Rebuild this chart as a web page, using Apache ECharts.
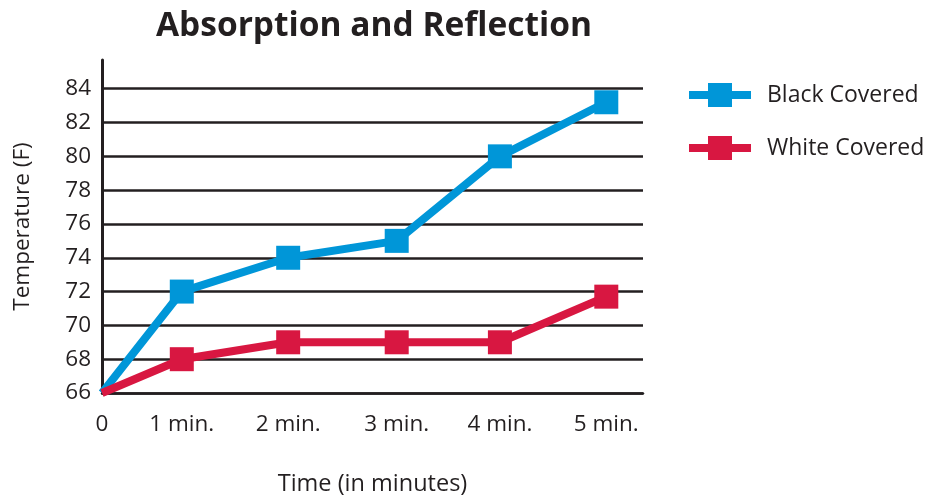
<!DOCTYPE html>
<html>
<head>
<meta charset="utf-8">
<script src="https://cdn.jsdelivr.net/npm/echarts@6/dist/echarts.min.js"></script>
<style>
  html, body { margin: 0; padding: 0; background: #fff; }
  #chart { width: 930px; height: 496px; }
</style>
</head>
<body>
<div id="chart"></div>
<script>
// Sampling times and their tick labels
const timeLabels = ['0', '1 min.', '2 min.', '3 min.', '4 min.', '5 min.'];
// Horizontal slot of each reading along the time axis (first interval drawn shorter)
const timeSlots = [0, 0.75, 1.75, 2.77, 3.74, 4.74];
// Temperatures in degrees F
const blackCovered = [66, 72, 74, 75, 80, 83.2];
const whiteCovered = [66, 68, 69, 69, 69, 71.7];

const ink = '#231f20';
const blue = '#0096d8';
const red = '#d81741';
const font = '"Open Sans", "Noto Sans", sans-serif';

function pairs(vals) {
  return vals.map((v, i) => ({
    value: [timeSlots[i], v],
    symbol: i === 0 ? 'none' : 'rect'
  }));
}

const chart = echarts.init(document.getElementById('chart'), null, { renderer: 'canvas' });
chart.setOption({
  animation: false,
  backgroundColor: '#fff',
  textStyle: { fontFamily: font, color: ink },
  title: {
    text: 'Absorption and Reflection',
    left: 369, top: 4, textAlign: 'center',
    textStyle: { fontFamily: font, fontWeight: 'bold', fontSize: 33.5, color: ink }
  },
  legend: {
    orient: 'vertical',
    left: 680, top: 75,
    itemWidth: 62, itemHeight: 30, itemGap: 23,
    lineStyle: { width: 8 },
    textStyle: { fontFamily: font, fontSize: 23, color: ink, padding: [0, 0, 0, 11], height: 30, lineHeight: 30 },
    data: ['Black Covered', 'White Covered']
  },
  grid: { left: 102, right: 287, top: 60, bottom: 103, containLabel: false, outerBoundsMode: 'none' },
  xAxis: {
    type: 'value',
    min: 0, max: 5.085,
    name: 'Time (in minutes)',
    nameLocation: 'middle', nameGap: 79,
    nameTextStyle: { fontFamily: font, fontSize: 23.5, color: ink },
    axisLine: { show: true, lineStyle: { color: ink, width: 2.5 } },
    axisTick: { show: false },
    splitLine: { show: false },
    axisLabel: {
      customValues: timeSlots,
      formatter: (v) => { const i = timeSlots.indexOf(v); return i >= 0 ? timeLabels[i] : ''; },
      fontFamily: font, fontSize: 22.5, color: ink, margin: 20
    }
  },
  yAxis: {
    type: 'value',
    min: 66, max: 85.7, interval: 2,
    name: 'Temperature (F)',
    nameLocation: 'middle', nameGap: 68, nameRotate: 90,
    nameTextStyle: { fontFamily: font, fontSize: 22.5, color: ink },
    axisLine: { show: true, lineStyle: { color: ink, width: 3 } },
    axisTick: { show: false },
    splitLine: { show: true, showMaxLine: false, lineStyle: { color: ink, width: 2.5 } },
    axisLabel: {
      showMaxLabel: false,
      formatter: (v) => (v % 2 === 0 ? String(v) : ''),
      fontFamily: font, fontSize: 22.5, color: ink, margin: 11
    }
  },
  series: [
    {
      name: 'Black Covered', type: 'line',
      data: pairs(blackCovered),
      symbol: 'rect', symbolSize: 24,
      lineStyle: { color: blue, width: 8 },
      itemStyle: { color: blue },
      z: 3
    },
    {
      name: 'White Covered', type: 'line',
      data: pairs(whiteCovered),
      symbol: 'rect', symbolSize: 24,
      lineStyle: { color: red, width: 8 },
      itemStyle: { color: red },
      z: 4
    }
  ]
});
</script>
</body>
</html>
